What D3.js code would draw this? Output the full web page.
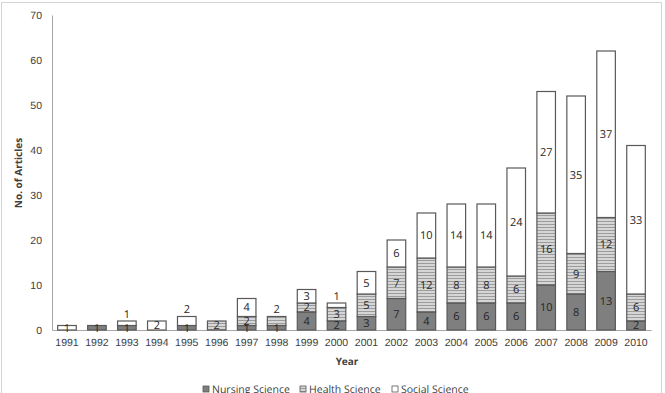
<!DOCTYPE html>
<html>
<head>
<meta charset="utf-8">
<script src="https://cdn.jsdelivr.net/npm/d3@7"></script>
<style>
  body { margin: 0; background: #fff; }
  svg { display: block; font-family: "Open Sans", sans-serif; text-rendering: geometricPrecision; }
</style>
</head>
<body>
<div id="chart"></div>
<script>
  // data
  const years = ["1991","1992","1993","1994","1995","1996","1997","1998","1999","2000",
                 "2001","2002","2003","2004","2005","2006","2007","2008","2009","2010"];
  const nursing = [0,1,1,0,1,0,1,1,4,2,3,7,4,6,6,6,10,8,13,2];
  const health  = [0,0,0,0,0,2,2,2,2,3,5,7,12,8,8,6,16,9,12,6];
  const social  = [1,0,1,2,2,0,4,0,3,1,5,6,10,14,14,24,27,35,37,33];
  const seriesNames = ["Nursing Science", "Health Science", "Social Science"];
  const yTicks = [0,10,20,30,40,50,60,70];
  // labels that were dragged above the bar in the original
  const labelsAbove = ["1993|Social Science", "1995|Social Science", "1998|Health Science", "2000|Social Science"];

  const W = 665, H = 393;
  const margin = { top: 15, right: 14, bottom: 63, left: 52 };

  const svg = d3.select("#chart").append("svg")
    .attr("width", W).attr("height", H);

  // outer chart border
  svg.append("rect")
    .attr("x", 1.5).attr("y", 2.5)
    .attr("width", 660).attr("height", 400)
    .attr("fill", "none").attr("stroke", "#d4d4d4");

  // striped fill for health science
  const defs = svg.append("defs");
  const pat = defs.append("pattern")
    .attr("id", "stripes")
    .attr("patternUnits", "userSpaceOnUse")
    .attr("width", 6).attr("height", 3);
  pat.append("rect").attr("width", 6).attr("height", 3).attr("fill", "#d6d6d6");
  pat.append("rect").attr("y", 2).attr("width", 6).attr("height", 1).attr("fill", "#9c9c9c");

  const fills = {
    "Nursing Science": "#7f7f7f",
    "Health Science": "url(#stripes)",
    "Social Science": "#ffffff"
  };

  const table = years.map((y, i) => ({
    year: y,
    "Nursing Science": nursing[i],
    "Health Science": health[i],
    "Social Science": social[i]
  }));

  const x = d3.scaleBand()
    .domain(years)
    .range([margin.left, W - margin.right])
    .paddingInner(0.38)
    .paddingOuter(0.19);

  const yScale = d3.scaleLinear()
    .domain([0, 70])
    .range([H - margin.bottom, margin.top]);

  const stack = d3.stack().keys(seriesNames);
  const series = stack(table);

  // y axis
  const yAxis = svg.append("g")
    .attr("transform", "translate(" + margin.left + ",0)")
    .call(d3.axisLeft(yScale).tickValues(yTicks).tickSize(0).tickPadding(10));
  yAxis.select(".domain").attr("stroke", "#a6a6a6");
  yAxis.selectAll("text").attr("font-size", "10.5px").attr("fill", "#404040");

  // x axis
  const xAxis = svg.append("g")
    .attr("transform", "translate(0," + (H - margin.bottom) + ")")
    .call(d3.axisBottom(x).tickSize(0).tickPadding(9).tickSizeOuter(0));
  xAxis.select(".domain").attr("stroke", "#a6a6a6");
  xAxis.selectAll("text").attr("font-size", "10.5px").attr("fill", "#404040");

  // bars
  const groups = svg.append("g")
    .selectAll("g")
    .data(series)
    .join("g")
    .attr("fill", d => fills[d.key]);

  groups.selectAll("rect")
    .data(d => d.filter(s => s[1] - s[0] > 0))
    .join("rect")
    .attr("x", d => x(d.data.year))
    .attr("y", d => yScale(d[1]))
    .attr("width", x.bandwidth())
    .attr("height", d => yScale(d[0]) - yScale(d[1]))
    .attr("stroke", "#595959")
    .attr("stroke-width", 1.2);

  // value labels
  const labels = [];
  series.forEach(s => {
    s.forEach(d => {
      const v = d[1] - d[0];
      if (v <= 0) return;
      const total = d.data["Nursing Science"] + d.data["Health Science"] + d.data["Social Science"];
      const above = labelsAbove.includes(d.data.year + "|" + s.key);
      labels.push({
        year: d.data.year,
        v: v,
        y: above ? yScale(total) - 7 : yScale((d[0] + d[1]) / 2)
      });
    });
  });

  svg.append("g")
    .selectAll("text")
    .data(labels)
    .join("text")
    .attr("x", d => x(d.year) + x.bandwidth() / 2)
    .attr("y", d => d.y)
    .attr("dy", "0.35em")
    .attr("text-anchor", "middle")
    .attr("font-size", "11px")
    .attr("fill", "#262626")
    .text(d => d.v);

  // axis titles
  svg.append("text")
    .attr("x", 347).attr("y", 361)
    .attr("dy", "0.35em")
    .attr("text-anchor", "middle")
    .attr("font-size", "10px")
    .attr("font-weight", "bold")
    .attr("fill", "#404040")
    .text("Year");

  svg.append("text")
    .attr("transform", "translate(18,173) rotate(-90)")
    .attr("dy", "0.35em")
    .attr("text-anchor", "middle")
    .attr("font-size", "10px")
    .attr("font-weight", "bold")
    .attr("fill", "#404040")
    .text("No. of Articles");

  // legend
  const legendX = [203, 300, 392];
  const legend = svg.append("g")
    .selectAll("g")
    .data(seriesNames)
    .join("g")
    .attr("transform", (d, i) => "translate(" + legendX[i] + ",389)");

  legend.append("rect")
    .attr("x", 0).attr("y", -3)
    .attr("width", 6).attr("height", 6)
    .attr("fill", d => fills[d])
    .attr("stroke", "#595959")
    .attr("stroke-width", 0.8);

  legend.append("text")
    .attr("x", 9).attr("y", 0)
    .attr("dy", "0.35em")
    .attr("font-size", "10.5px")
    .attr("fill", "#404040")
    .text(d => d);
</script>
</body>
</html>
